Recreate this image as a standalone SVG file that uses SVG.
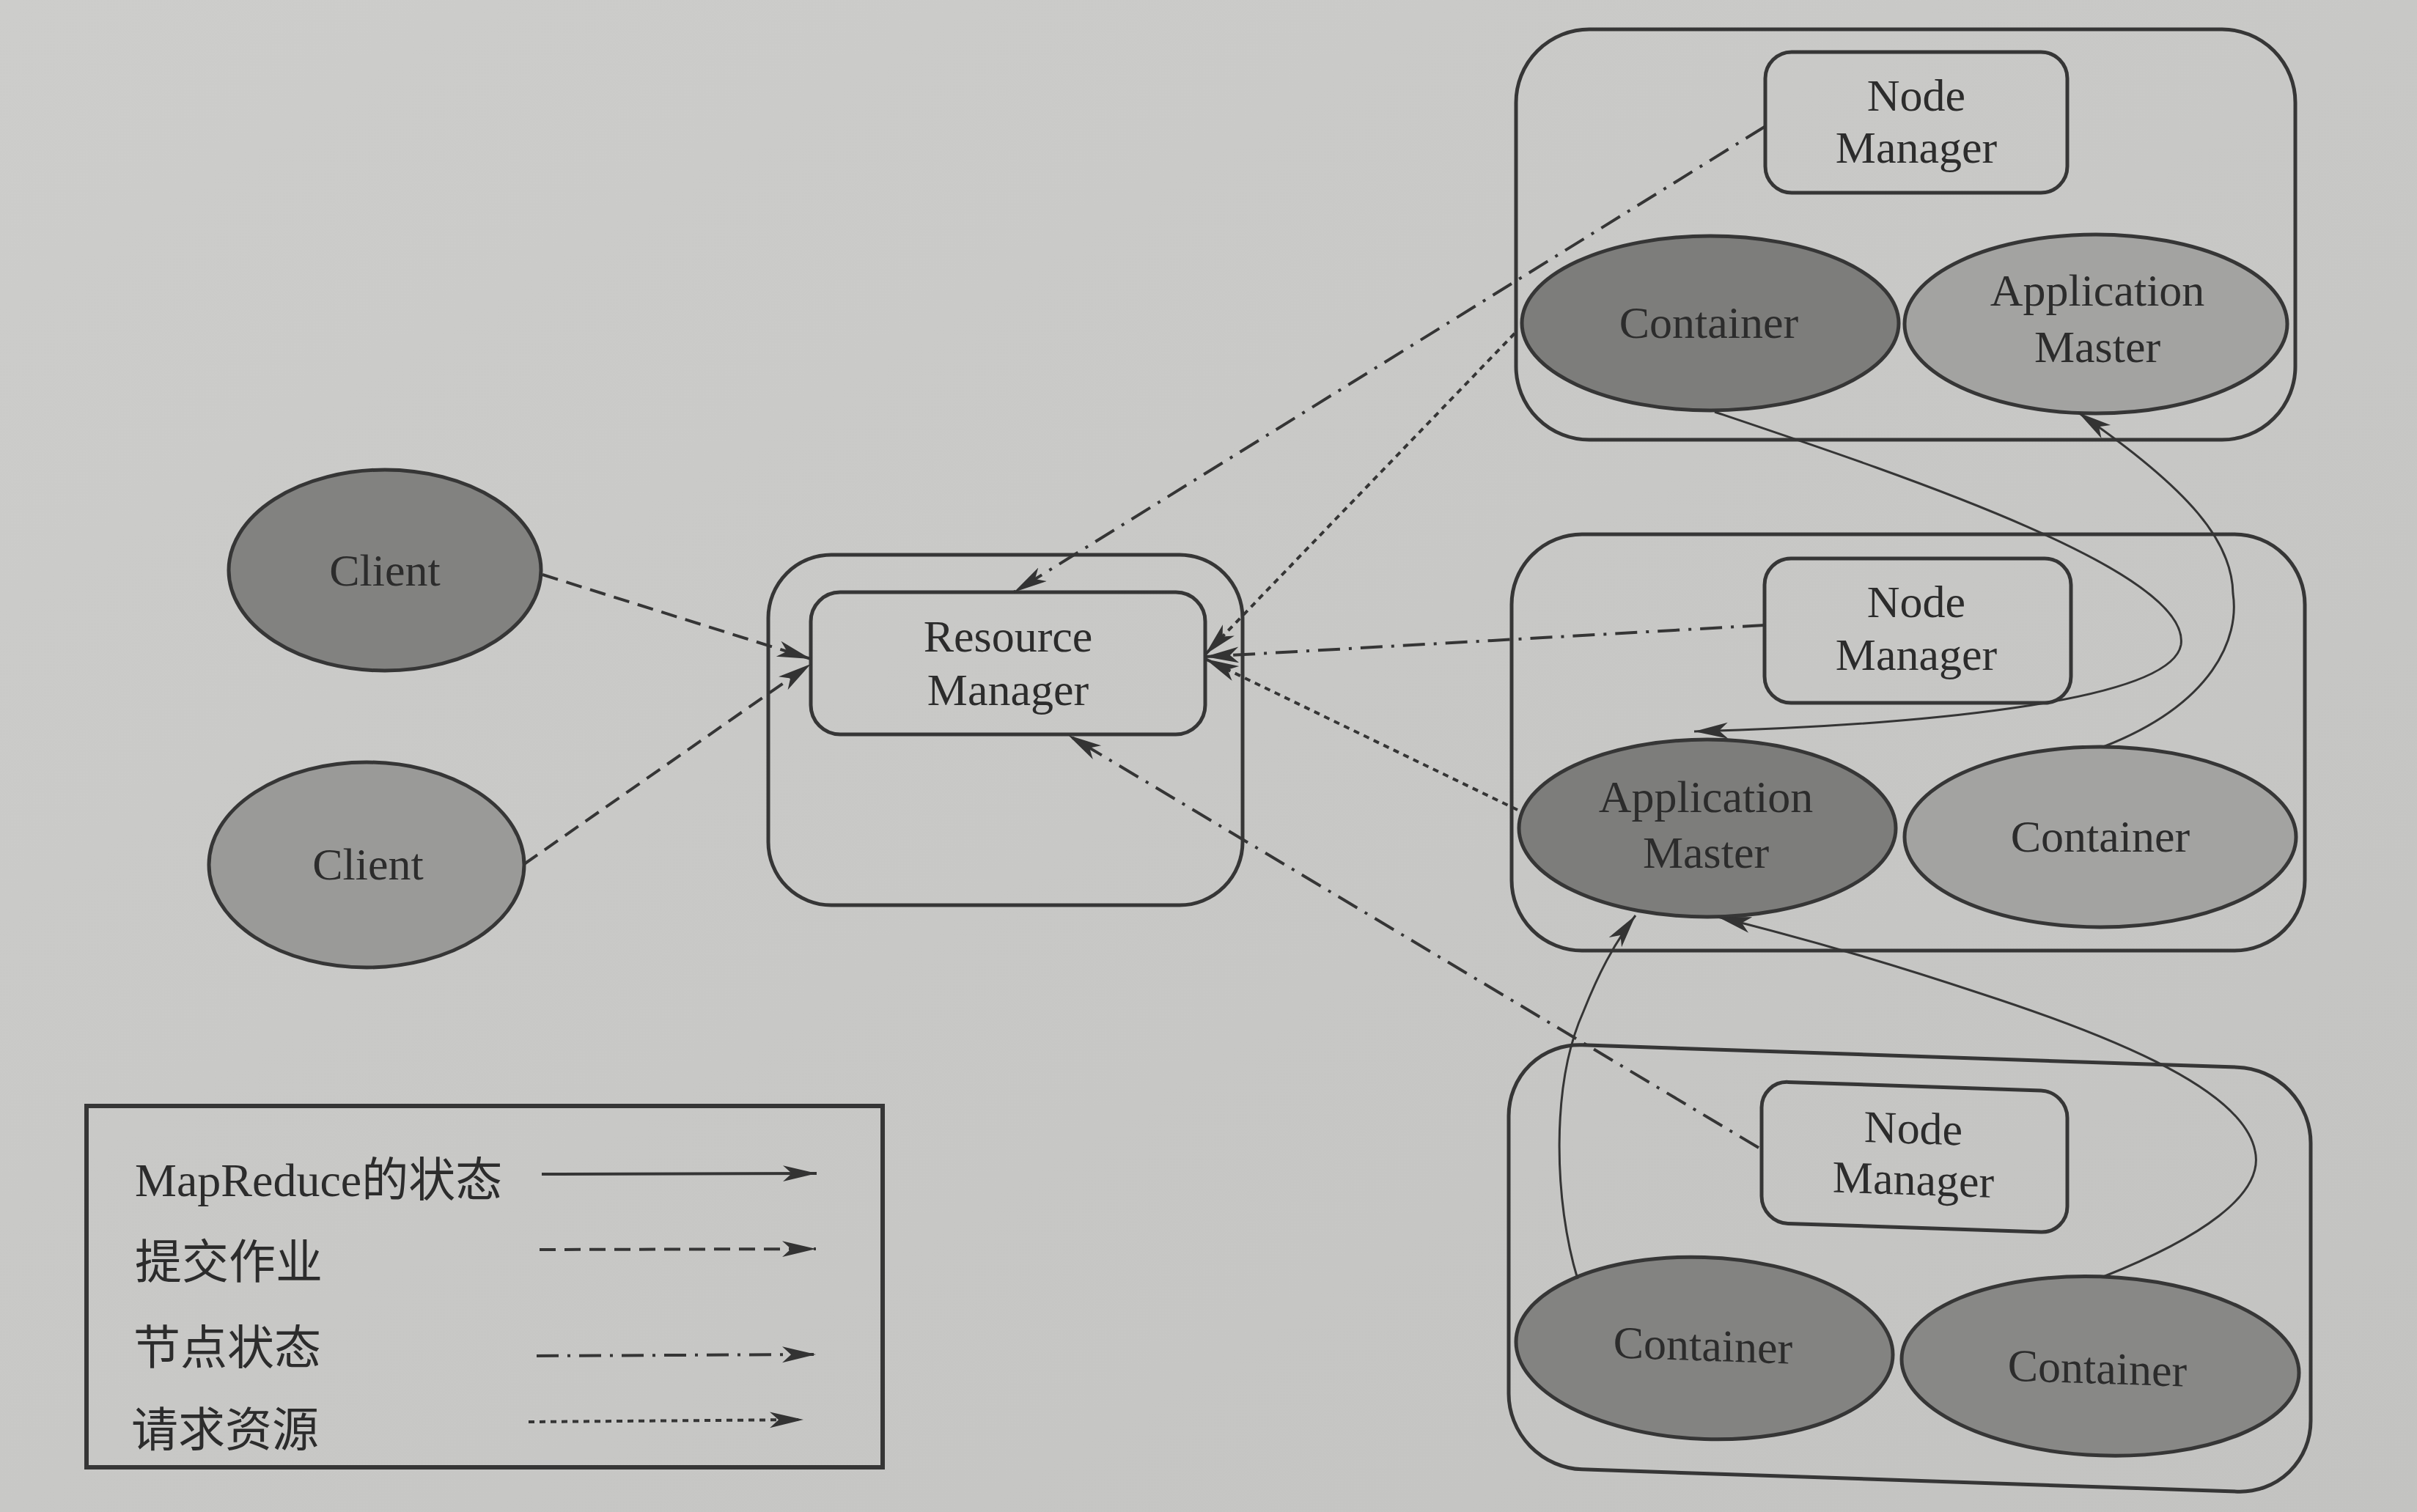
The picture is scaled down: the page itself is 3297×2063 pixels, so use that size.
<svg xmlns="http://www.w3.org/2000/svg" width="3297" height="2063" viewBox="0 0 3297 2063">
<defs>
<linearGradient id="bg" x1="0" y1="0" x2="1" y2="1">
<stop offset="0" stop-color="#cdcdcb"/><stop offset="1" stop-color="#c3c3c1"/>
</linearGradient>
<marker id="ah" markerUnits="userSpaceOnUse" markerWidth="50" markerHeight="24" refX="46" refY="11" orient="auto" viewBox="0 0 50 24">
<path d="M0,0 L46,11 L0,22 L12,11 z" fill="#333"/>
</marker>
</defs>
<style>
.box{fill:none;stroke:#363636;stroke-width:5}
.ell{stroke:#363636;stroke-width:5}
.dark{fill:#7d7d7b}
.light{fill:#a3a3a1}
.lbl{font-family:"Liberation Serif","Times New Roman",serif;font-size:62px;fill:#2c2c2c;text-anchor:middle}
.leg{font-family:"Liberation Serif","Noto Sans CJK SC",serif;font-size:64px;fill:#2c2c2c}
.c{fill:none;stroke:#353535;stroke-width:4}
.submit{stroke-dasharray:22 12}
.status{stroke-dasharray:30 12 4 12}
.req{stroke-dasharray:8 7}
.mr{stroke-width:3}
</style>
<rect x="0" y="0" width="3297" height="2063" fill="url(#bg)"/>

<g id="client1">
<ellipse class="ell" cx="525" cy="778" rx="213" ry="137" fill="#828280"/>
<text class="lbl" x="525" y="799">Client</text>
</g>
<g id="client2">
<ellipse class="ell" cx="500" cy="1180" rx="215" ry="140" fill="#9a9a98"/>
<text class="lbl" x="502" y="1200">Client</text>
</g>

<g id="resource-manager">
<rect class="box" x="1048" y="757" width="647" height="478" rx="86"/>
<rect class="box" x="1106" y="808" width="538" height="194" rx="40"/>
<text class="lbl" x="1375" y="889">Resource</text>
<text class="lbl" x="1375" y="962">Manager</text>
</g>

<g id="node1">
<rect class="box" x="2068" y="40" width="1063" height="560" rx="100"/>
<rect class="box" x="2408" y="71" width="412" height="192" rx="36"/>
<text class="lbl" x="2614" y="151">Node</text>
<text class="lbl" x="2614" y="222">Manager</text>
<ellipse class="ell dark" cx="2333" cy="441" rx="257" ry="119"/>
<text class="lbl" x="2331" y="461">Container</text>
<ellipse class="ell light" cx="2859" cy="442" rx="261" ry="122"/>
<text class="lbl" x="2861" y="417">Application</text>
<text class="lbl" x="2861" y="494">Master</text>
</g>

<g id="node2">
<rect class="box" x="2062" y="729" width="1082" height="568" rx="96"/>
<rect class="box" x="2407" y="762" width="418" height="197" rx="36"/>
<text class="lbl" x="2614" y="842">Node</text>
<text class="lbl" x="2614" y="914">Manager</text>
<ellipse class="ell dark" cx="2329" cy="1130" rx="257" ry="121"/>
<text class="lbl" x="2327" y="1108">Application</text>
<text class="lbl" x="2327" y="1184">Master</text>
<ellipse class="ell light" cx="2865" cy="1142" rx="267" ry="123"/>
<text class="lbl" x="2865" y="1162">Container</text>
</g>

<g id="node3" transform="translate(2605 1730) skewY(1.94) translate(-2605 -1730)">
<rect class="box" x="2058" y="1441" width="1094" height="579" rx="100"/>
<rect class="box" x="2403" y="1482" width="417" height="193" rx="36"/>
<text class="lbl" x="2610" y="1560">Node</text>
<text class="lbl" x="2610" y="1630">Manager</text>
<ellipse class="ell" cx="2325" cy="1849" rx="257" ry="124" fill="#838381"/>
<text class="lbl" x="2323" y="1866">Container</text>
<ellipse class="ell" cx="2865" cy="1855" rx="271" ry="122" fill="#888886"/>
<text class="lbl" x="2861" y="1879">Container</text>
</g>

<g id="connectors">
<line class="c submit" x1="740" y1="784" x2="1106" y2="899" marker-end="url(#ah)"/>
<line class="c submit" x1="715" y1="1179" x2="1106" y2="906" marker-end="url(#ah)"/>
<line class="c status" x1="2407" y1="173" x2="1383" y2="808" marker-end="url(#ah)"/>
<line class="c status" x1="2407" y1="853" x2="1644" y2="896" marker-end="url(#ah)"/>
<line class="c status" x1="2399" y1="1566" x2="1457" y2="1003" marker-end="url(#ah)"/>
<line class="c req" x1="2066" y1="455" x2="1644" y2="893" marker-end="url(#ah)"/>
<line class="c req" x1="2070" y1="1105" x2="1644" y2="899" marker-end="url(#ah)"/>
<path class="c mr" d="M2339,562 C2600,650 2990,780 2975,880 C2960,960 2600,990 2311,998" marker-end="url(#ah)"/>
<path class="c mr" d="M2869,1019 C3020,960 3055,870 3046,810 C3045,740 2990,670 2835,563" marker-end="url(#ah)"/>
<path class="c mr" d="M2152,1745 C2120,1640 2115,1480 2160,1380 C2180,1330 2200,1290 2231,1249" marker-end="url(#ah)"/>
<path class="c mr" d="M2869,1742 C3000,1690 3090,1630 3076,1570 C3060,1490 2900,1420 2700,1355 C2550,1305 2420,1270 2343,1251" marker-end="url(#ah)"/>
</g>

<g id="legend">
<rect x="118" y="1509" width="1086" height="493" fill="none" stroke="#363636" stroke-width="6"/>
<text class="leg" x="184" y="1632">MapReduce的状态</text>
<line class="c" x1="739" y1="1602" x2="1114" y2="1601" marker-end="url(#ah)"/>
<text class="leg" x="184" y="1744">提交作业</text>
<line class="c submit" x1="736" y1="1705" x2="1113" y2="1704" marker-end="url(#ah)"/>
<text class="leg" x="182" y="1861">节点状态</text>
<line class="c status" x1="732" y1="1850" x2="1113" y2="1848" marker-end="url(#ah)"/>
<text class="leg" x="179" y="1973">请求资源</text>
<line class="c req" x1="721" y1="1940" x2="1096" y2="1937" marker-end="url(#ah)"/>
</g>
</svg>
